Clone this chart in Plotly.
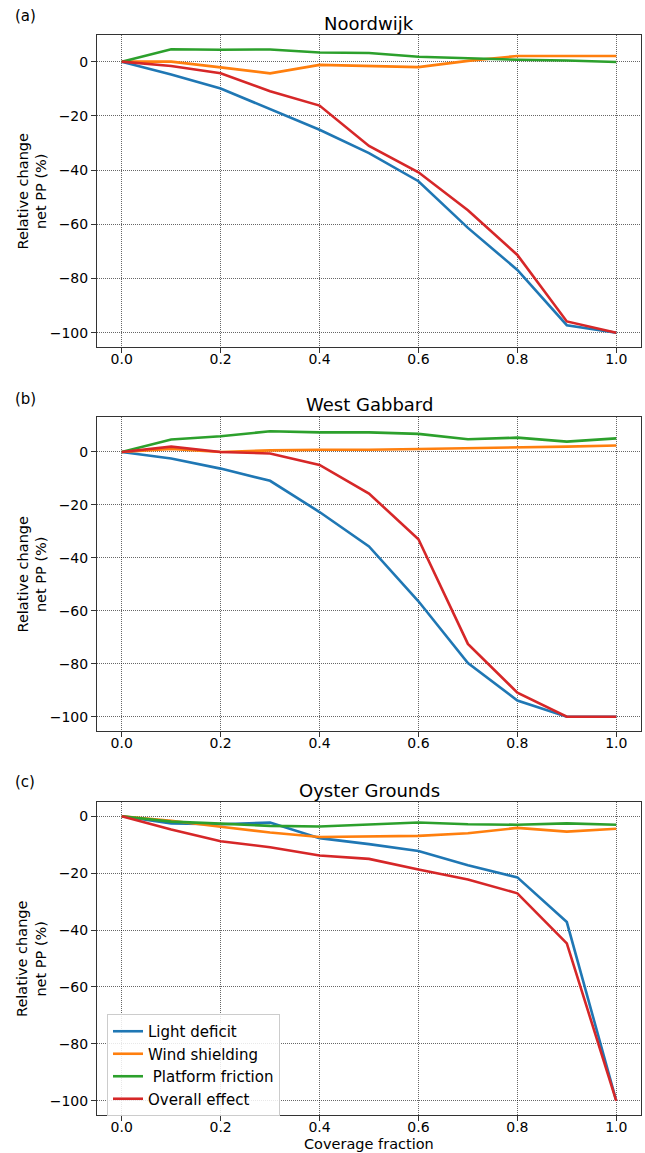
import plotly.graph_objects as go

# ---------------- data ----------------
coverage = [0.0, 0.1, 0.2, 0.3, 0.4, 0.5, 0.6, 0.7, 0.8, 0.9, 1.0]

site_names = ["Noordwijk", "West Gabbard", "Oyster Grounds"]
panel_labels = ["(a)", "(b)", "(c)"]
series_names = ["Light deficit", "Wind shielding", " Platform friction", "Overall effect"]

# Noordwijk
nw_light = [0, -4.7, -9.9, -17.5, -25.1, -33.7, -44.1, -61.3, -76.8, -97.2, -100]
nw_wind = [0, 0.0, -2.1, -4.3, -1.2, -1.7, -2.0, 0.3, 2.1, 2.1, 2.1]
nw_friction = [0, 4.6, 4.4, 4.5, 3.4, 3.2, 1.8, 1.2, 0.7, 0.4, -0.1]
nw_overall = [0, -1.6, -4.3, -10.9, -16.2, -31.1, -40.8, -54.8, -71.3, -95.8, -100]

# West Gabbard
wg_light = [0, -2.5, -6.3, -10.9, -22.7, -35.7, -56.4, -79.7, -93.9, -100, -100]
wg_wind = [0, 1.1, 0.0, 0.6, 0.8, 0.8, 1.1, 1.4, 1.5, 2.0, 2.4]
wg_friction = [0, 4.7, 5.9, 7.8, 7.4, 7.4, 6.8, 4.8, 5.4, 3.9, 5.1]
wg_overall = [0, 2.0, 0.0, -0.6, -4.9, -15.7, -33.0, -72.5, -90.9, -100, -100]

# Oyster Grounds
og_light = [0, -2.5, -2.8, -2.2, -7.7, -9.8, -12.2, -17.2, -21.5, -37.2, -100]
og_wind = [0, -1.6, -3.7, -5.7, -7.3, -7.1, -6.9, -6.0, -4.1, -5.4, -4.4]
og_friction = [0, -1.9, -2.6, -3.4, -3.6, -2.9, -2.2, -2.8, -3.0, -2.5, -3.0]
og_overall = [0, -4.7, -8.8, -10.9, -13.8, -15.0, -18.7, -22.2, -27.1, -44.7, -100]

x_tick_vals = [0.0, 0.2, 0.4, 0.6, 0.8, 1.0]
y_tick_vals = [0, -20, -40, -60, -80, -100]

panels = [
    [nw_light, nw_wind, nw_friction, nw_overall],
    [wg_light, wg_wind, wg_friction, wg_overall],
    [og_light, og_wind, og_friction, og_overall],
]
colors = ["#1f77b4", "#ff7f0e", "#2ca02c", "#d62728"]

# ---------------- layout geometry (pixels) ----------------
W, H = 645, 1153
ML, MR, MT, MB = 97, 4, 35, 38
plot_h = H - MT - MB
plot_w = W - ML - MR
frames_px = [(35, 347), (417, 731), (802, 1115)]  # top, bottom of each panel
label_px = [16.5, 399, 781.5]


def py2paper(py):
    return (H - MB - py) / plot_h


def px2paper(px):
    return (px - ML) / plot_w


FONT = "DejaVu Sans"
fig = go.Figure()

for i, data in enumerate(panels):
    suffix = "" if i == 0 else str(i + 1)
    for j, ys in enumerate(data):
        fig.add_trace(go.Scatter(
            x=coverage, y=ys, mode="lines", name=series_names[j],
            line=dict(color=colors[j], width=2.6),
            xaxis="x" + suffix, yaxis="y" + suffix,
            showlegend=(i == 2),
        ))
    allv = [v for s in data for v in s]
    lo, hi = min(allv), max(allv)
    pad = 0.05 * (hi - lo)
    top, bot = frames_px[i]
    axis_common = dict(
        showline=True, linecolor="#333333", linewidth=1, mirror=True,
        ticks="outside", ticklen=5, tickcolor="#333333", tickwidth=1,
        showgrid=True, gridcolor="rgba(0,0,0,0.6)", gridwidth=0.8, griddash="1px,1px",
        zeroline=False, tickfont=dict(family=FONT, size=14, color="black"),
        automargin=False,
    )
    fig.layout["xaxis" + suffix] = dict(
        axis_common, domain=[0, 1], range=[-0.05, 1.05],
        tickvals=x_tick_vals, tickformat=".1f", ticklabelstandoff=-6,
        anchor="y" + suffix,
    )
    fig.layout["yaxis" + suffix] = dict(
        axis_common, domain=[py2paper(bot), py2paper(top)],
        range=[lo - pad, hi + pad], tickvals=y_tick_vals,
        anchor="x" + suffix,
    )
    # panel title
    fig.add_annotation(
        text=site_names[i], xref="paper", yref="paper",
        x=0.5, y=py2paper(top - 12), xanchor="center", yanchor="middle",
        showarrow=False, font=dict(family=FONT, size=18, color="black"),
    )
    # panel label
    fig.add_annotation(
        text=panel_labels[i], xref="paper", yref="paper",
        x=px2paper(13), y=py2paper(label_px[i]), xanchor="left", yanchor="middle",
        showarrow=False, font=dict(family=FONT, size=15, color="black"),
    )
    # y-axis title
    fig.add_annotation(
        text="Relative change<br>net PP (%)", xref="paper", yref="paper",
        x=px2paper(31.5), y=py2paper((top + bot) / 2), xanchor="center", yanchor="middle",
        textangle=-90, align="center",
        showarrow=False, font=dict(family=FONT, size=14.5, color="black"),
    )

# x-axis title (bottom panel)
fig.add_annotation(
    text="Coverage fraction", xref="paper", yref="paper",
    x=0.5, y=py2paper(1154), xanchor="center", yanchor="bottom",
    showarrow=False, font=dict(family=FONT, size=14.5, color="black"),
)

fig.update_layout(
    width=W, height=H,
    margin=dict(l=ML, r=MR, t=MT, b=MB, pad=0),
    paper_bgcolor="white", plot_bgcolor="white",
    font=dict(family=FONT, size=14, color="black"),
    legend=dict(
        x=px2paper(107), y=py2paper(1014), xanchor="left", yanchor="top",
        bgcolor="rgba(255,255,255,0.85)", bordercolor="#cccccc", borderwidth=1,
        font=dict(family=FONT, size=15, color="black"),
        itemwidth=30, tracegroupgap=0,
    ),
)

fig.write_html("out.html")
